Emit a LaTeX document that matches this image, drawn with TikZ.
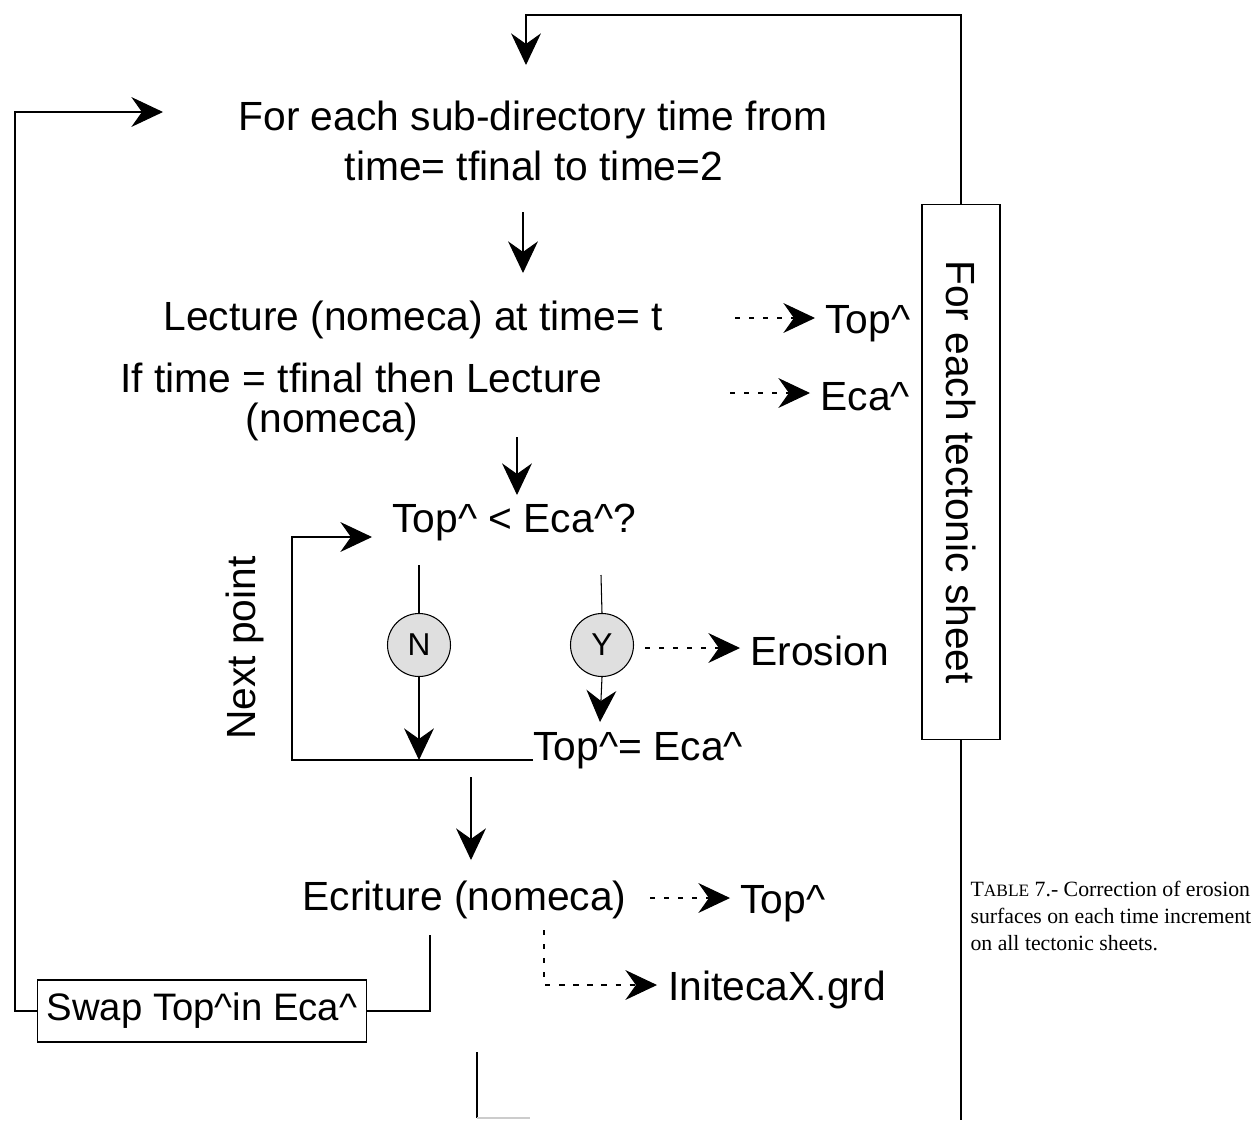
\documentclass[tikz,border=0pt]{standalone}
\usepackage{fontspec}
\setmainfont{Liberation Sans}
\newfontfamily\capfont{Liberation Serif}
\usetikzlibrary{arrows.meta}
\newcommand\crt{\textasciicircum}
\newcommand\bigtxt{\fontsize{23.2}{27}\selectfont}

\begin{document}
\begin{tikzpicture}[x=0.02cm,y=-0.02cm,line width=0.6pt,
		txt/.style={inner sep=0pt,font=\bigtxt},
		flow/.style={-{Stealth[length=18pt,width=17pt,inset=6pt]}},
		dflow/.style={flow,dash pattern=on 3pt off 5pt},
		yn/.style={circle,draw,fill=gray!25,minimum size=1.26cm,inner sep=0pt,font=\fontsize{18}{20}\selectfont}
	]
	\useasboundingbox (0,0) rectangle (1255,1120);
	% main column
	\node[txt,anchor=base] (head1) at (533,130) {For each sub-directory time from};
	\node[txt,anchor=base] (head2) at (534,180) {time= tfinal to time=2};
	\node[txt,anchor=base west] (read1) at (163,330) {Lecture (nomeca) at time= t};
	\node[txt,anchor=base west] (read2) at (120,392) {If time = tfinal then Lecture};
	\node[txt,anchor=base] (read3) at (332,432) {(nomeca)};
	\node[txt,anchor=base west] (test) at (392,532) {Top\crt{} < Eca\crt?};
	\node[yn] (no) at (419,645) {N};
	\node[yn] (yes) at (602,645) {Y};
	\node[txt,anchor=base west] (set) at (533,760) {Top\crt= Eca\crt};
	\node[txt,anchor=base west] (write) at (302,910) {Ecriture (nomeca)};
	\node[draw,inner sep=0pt,font=\fontsize{21.8}{26}\selectfont,minimum width=6.58cm,minimum height=1.24cm] (swap) at (202,1011) {Swap Top\crt in Eca\crt};
	\node[txt,rotate=90] (next) at (245,648) {Next point};
	\node[txt,draw,rotate=-90,minimum width=10.7cm,minimum height=1.56cm] (sheet) at (961,472) {For each tectonic sheet};
	% outputs
	\node[txt,anchor=base west] (out1) at (825,333) {Top\crt};
	\node[txt,anchor=base west] (out2) at (820,410) {Eca\crt};
	\node[txt,anchor=base west] (ero) at (750,665) {Erosion};
	\node[txt,anchor=base west] (out3) at (740,913) {Top\crt};
	\node[txt,anchor=base west] (grd) at (668,1000) {InitecaX.grd};
	\node[anchor=north west,inner sep=0pt,align=left,font=\capfont\fontsize{12.4}{15.4}\selectfont] (cap) at (970,881)
		{T{\fontsize{9.9}{15.4}\selectfont ABLE} 7.- Correction of erosion\\surfaces on each time increment\\on all tectonic sheets.};
	% free ends
	\coordinate (intop) at (526,65);
	\coordinate (intest) at (372,537);
	\coordinate (inhead) at (163,112);
	% connectors
	\draw[flow] (sheet.west) -- (961,15) -- (526,15) -- (intop);
	\draw (sheet.east) -- (961,1120);
	\draw[flow] (523,212) -- (523,273);
	\draw[flow] (517,437) -- (517,495);
	\draw (419,565) -- (no.north);
	\draw[flow] (no.south) -- (419,760);
	\draw (601,575) -- (yes.north);
	\draw[flow] (yes.south) -- (600,722);
	\draw[flow] (set.base west) -- (292,760) -- (292,537) -- (intest);
	\draw[flow] (471,777) -- (471,860);
	\draw[dflow] (735,318) -- (815,318);
	\draw[dflow] (730,393) -- (810,393);
	\draw[dflow] (645,648) -- (740,648);
	\draw[dflow] (650,898) -- (730,898);
	\draw[dflow] (544,930) -- (544,985) -- (657,985);
	\draw[flow] (swap.west) -- (15,1011) -- (15,112) -- (inhead);
	\draw (swap.east) -- (430,1011) -- (430,935);
	\draw (477,1052) -- (477,1118);
	\draw[gray!40] (477,1118) -- (530,1118);
\end{tikzpicture}
\end{document}
